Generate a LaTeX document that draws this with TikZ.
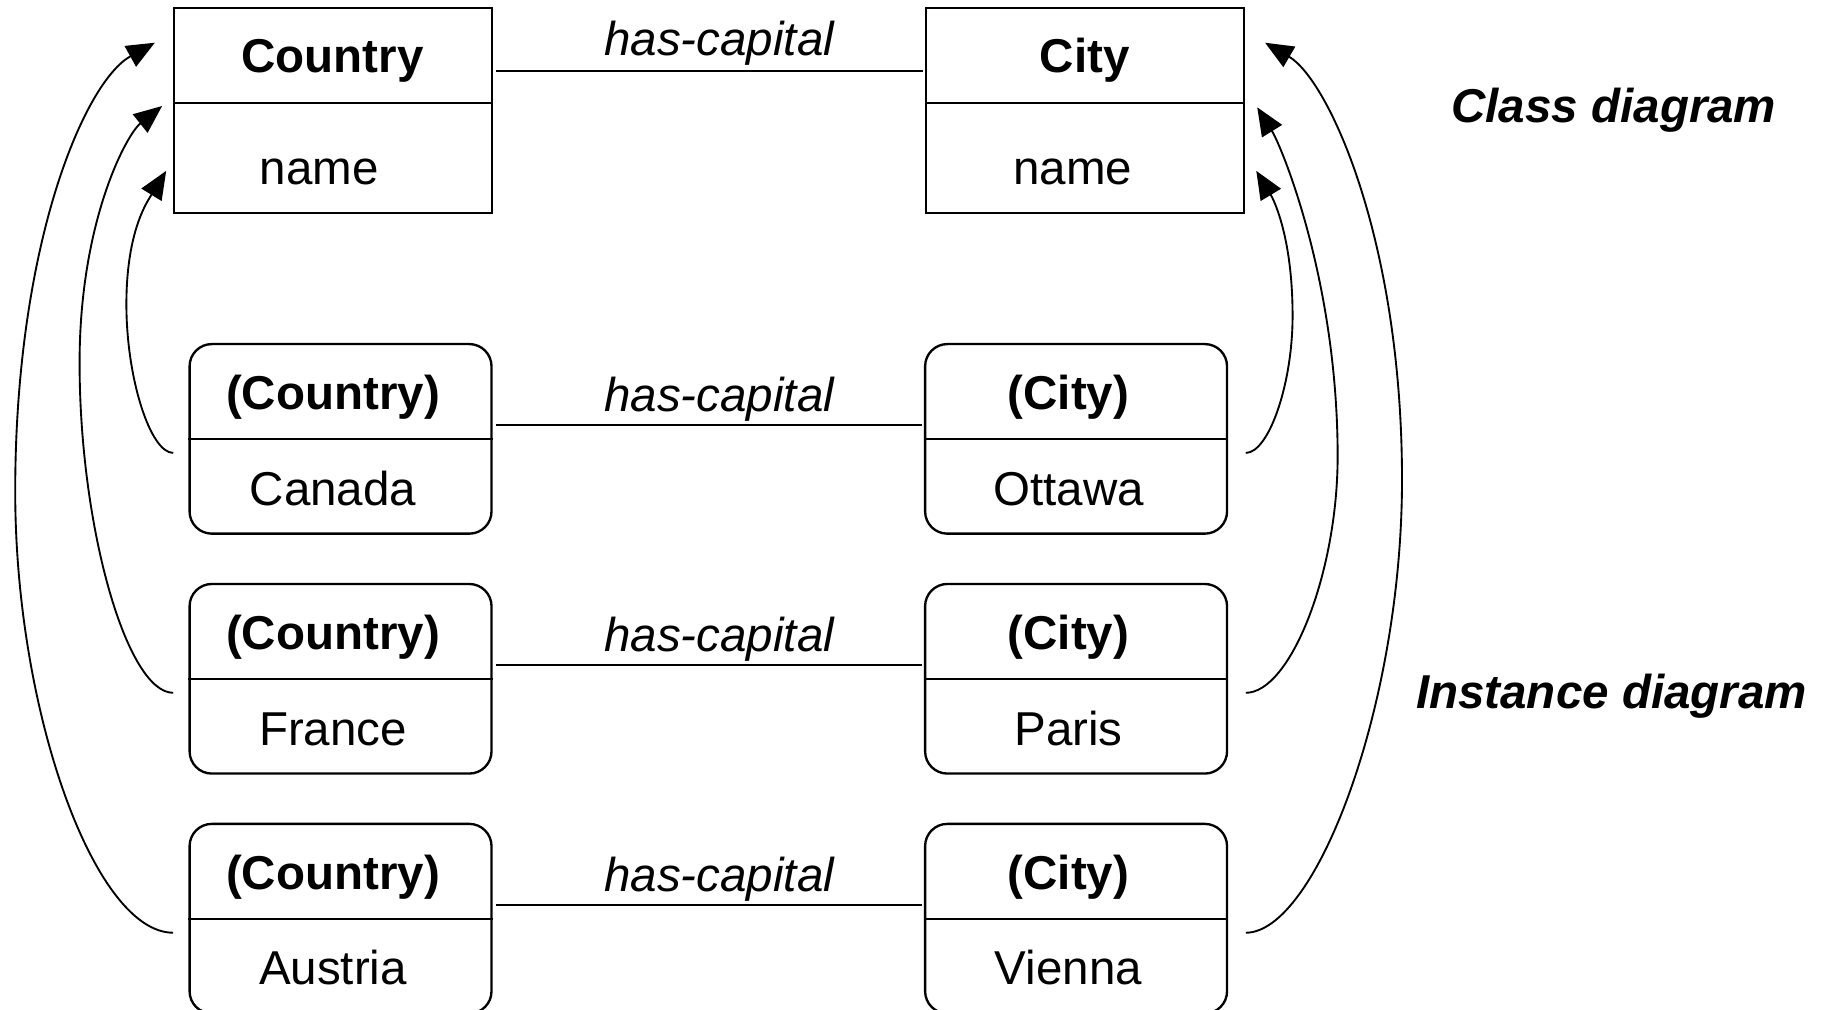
\documentclass[tikz,border=0pt]{standalone}
\usepackage{fontspec}
\setmainfont{Liberation Sans}
\usetikzlibrary{calc,arrows.meta}

\tikzset{
  classbox/.style={draw, line width=2pt, minimum width=272pt, minimum height=175pt, inner sep=0pt},
  instbox/.style={draw, line width=2pt, rounded corners=19pt, minimum width=258pt, minimum height=162pt, inner sep=0pt},
  divider/.style={line width=1.8pt},
  assoc/.style={line width=1.8pt},
  txt/.style={font=\fontsize{40.6}{48}\selectfont, anchor=base, inner sep=0pt},
  head/.style={txt, font=\fontsize{40.6}{48}\selectfont\bfseries},
  rel/.style={txt, font=\fontsize{40.6}{48}\selectfont\itshape},
  title/.style={txt, font=\fontsize{40.6}{48}\selectfont\bfseries\itshape},
  instof/.style={line width=1.6pt, -{Triangle[length=24pt,width=20pt]}},
}

\begin{document}
\begin{tikzpicture}[x=1pt, y=-1pt]
  \useasboundingbox (0,0) rectangle (1568,863);

  % ---- class diagram ----
  \node[classbox] (ctry) at (284.5,94.5) {};
  \node[classbox] (city) at (927,94.5) {};
  \draw[divider] ($(ctry.west)+(0,-6.8)$) -- ($(ctry.east)+(0,-6.8)$);
  \draw[divider] ($(city.west)+(0,-6.8)$) -- ($(city.east)+(0,-6.8)$);
  \node[head] (ctryName) at (284.2,62) {Country};
  \node[txt]  (ctryAttr) at (272.7,158) {name};
  \node[head] (cityName) at (927,62) {City};
  \node[txt]  (cityAttr) at (916.8,158) {name};
  \draw[assoc] ($(ctry.east)+(2.5,-33.8)$) -- ($(city.west)+(-1.5,-33.8)$);
  \node[rel] (rel0) at (614.5,47) {has-capital};

  % ---- instance diagram ----
  \foreach \i/\cy/\country/\capital in {1/375/Canada/Ottawa, 2/580/France/Paris, 3/785/Austria/Vienna}{
    \node[instbox] (c\i) at (291,\cy) {};
    \node[instbox] (t\i) at (919.5,\cy) {};
    \draw[divider] (c\i.west) -- (c\i.east);
    \draw[divider] (t\i.west) -- (t\i.east);
    \node[head] (cT\i) at (284.5,\cy-24.7) {(Country)};
    \node[txt]  (cV\i) at (284.5,\cy+56.6) {\country};
    \node[head] (tT\i) at (913,\cy-24.7) {(City)};
    \node[txt]  (tV\i) at (913,\cy+56.6) {\capital};
    \draw[assoc] ($(c\i.east)+(2.5,-11.8)$) -- ($(t\i.west)+(-1.5,-11.8)$);
    \node[rel] (rel\i) at (614.5,\cy-23.2) {has-capital};
  }

  \node[title] (lblClass) at (1379,104.8) {Class diagram};
  \node[title] (lblInst)  at (1377,605.3) {Instance diagram};

  % ---- instance-of links, left side ----
  \draw[instof] ($(c1.west)+(-13,12)$)
      .. controls (128.5,387) and (108,323.5) .. (108,260)
      .. controls (108,197.3) and (126,172) .. ($(ctry.west)+(-5.5,51.5)$);
  \draw[instof] ($(c2.west)+(-13,12)$)
      .. controls (108.5,592) and (68,451) .. (68,310)
      .. controls (68,189.3) and (108,115) .. ($(ctry.west)+(-9,-3.9)$);
  \draw[instof] ($(c3.west)+(-13,12)$)
      .. controls (81,797) and (13,608.5) .. (13,420)
      .. controls (13,209) and (72,70) .. ($(ctry.west)+(-15.2,-58)$);

  % ---- instance-of links, right side ----
  \draw[instof] ($(t1.east)+(15,12)$)
      .. controls (1084,387) and (1104.5,328.5) .. (1104.5,270)
      .. controls (1104.5,202) and (1088,170) .. ($(city.east)+(9.5,51.5)$);
  \draw[instof] ($(t2.east)+(15,12)$)
      .. controls (1102.3,592) and (1143,490) .. (1143,390)
      .. controls (1143,240) and (1095,125) .. ($(city.east)+(10.3,-2.8)$);
  \draw[instof] ($(t3.east)+(15,12)$)
      .. controls (1124,797) and (1198,603.5) .. (1198,410)
      .. controls (1198,204.6) and (1135,68) .. ($(city.east)+(17,-58)$);
\end{tikzpicture}
\end{document}
